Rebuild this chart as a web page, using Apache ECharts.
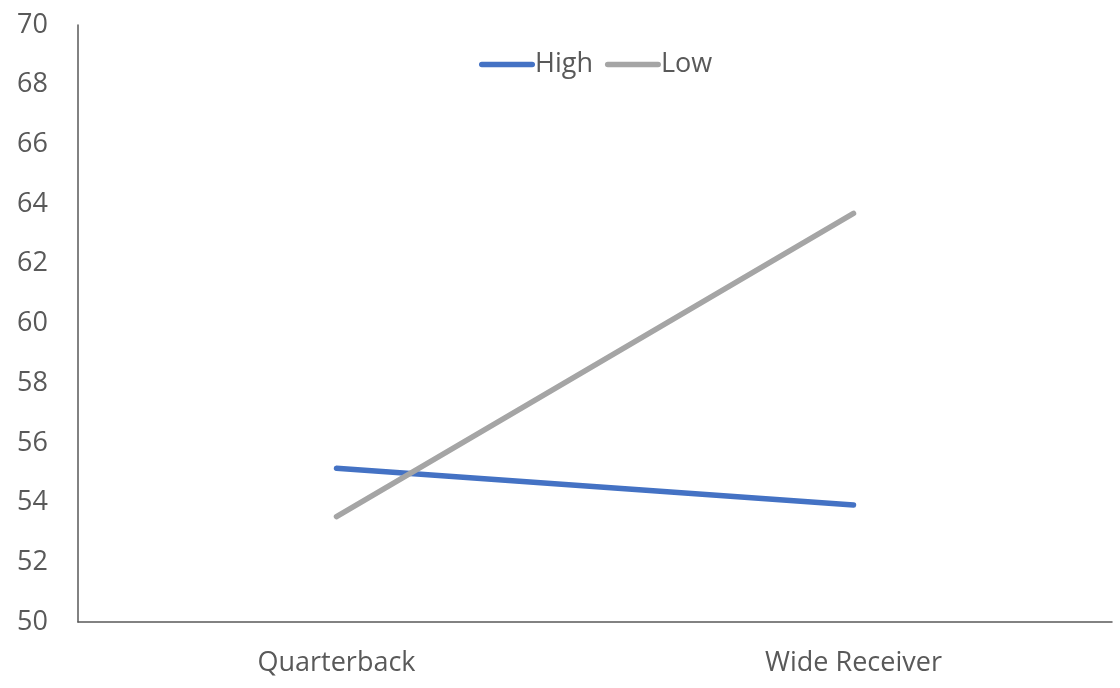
<!DOCTYPE html>
<html>
<head>
<meta charset="utf-8">
<script src="https://cdn.jsdelivr.net/npm/echarts@6/dist/echarts.min.js"></script>
<style>
  html, body { margin: 0; padding: 0; background: #fff; }
  #chart { width: 1120px; height: 688px; }
</style>
</head>
<body>
<div id="chart"></div>
<script>
const positions = ["Quarterback", "Wide Receiver"];
const highValues = [55.15, 53.92];
const lowValues = [53.53, 63.69];

const textColor = "#595959";
const font = "'Open Sans', sans-serif";

const chart = echarts.init(document.getElementById("chart"));

chart.setOption({
  animation: false,
  backgroundColor: "#fff",
  textStyle: { fontFamily: font },
  grid: { left: 78, right: 8, top: 25, bottom: 66 },
  legend: {
    data: ["High", "Low"],
    top: 46,
    left: 474,
    itemWidth: 56,
    itemHeight: 12,
    itemGap: 12,
    icon: "path://M0.05,0 L0.95,0 A0.05,0.05 0 0 1 0.95,0.1 L0.05,0.1 A0.05,0.05 0 0 1 0.05,0 Z",
    textStyle: { color: textColor, fontSize: 27, fontFamily: font, padding: [0, 0, 0, -5] }
  },
  xAxis: {
    type: "category",
    data: positions,
    boundaryGap: true,
    axisLine: { lineStyle: { color: "#595959", width: 1.5 } },
    axisTick: { show: false },
    axisLabel: { color: textColor, fontSize: 27, margin: 28, fontFamily: font }
  },
  yAxis: {
    type: "value",
    min: 50,
    max: 70,
    interval: 2,
    splitLine: { show: false },
    axisLine: { show: true, lineStyle: { color: "#595959", width: 1.5 } },
    axisTick: { show: false },
    axisLabel: { color: textColor, fontSize: 27, margin: 30, fontFamily: font }
  },
  series: [
    {
      name: "High",
      type: "line",
      data: highValues,
      color: "#4472C4",
      symbol: "none",
      lineStyle: { width: 5.5, cap: "round" }
    },
    {
      name: "Low",
      type: "line",
      data: lowValues,
      color: "#A5A5A5",
      symbol: "none",
      lineStyle: { width: 5.5, cap: "round" }
    }
  ]
});
</script>
</body>
</html>
